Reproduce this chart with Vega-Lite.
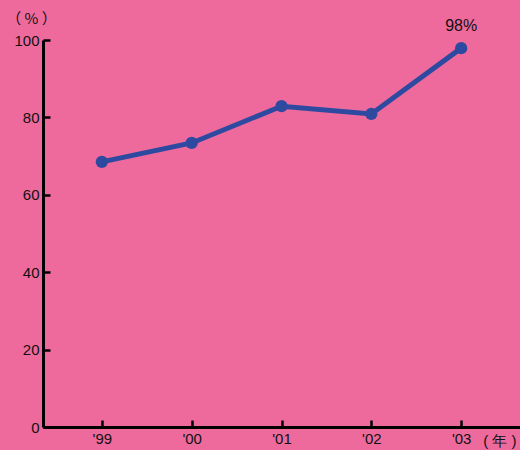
{
  "$schema": "https://vega.github.io/schema/vega-lite/v6.json",
  "autosize": "none",
  "width": 477,
  "height": 387,
  "padding": {"left": 43, "top": 40, "right": 0, "bottom": 23},
  "background": "#EE6A9C",
  "config": {
    "view": {"stroke": null},
    "font": "Liberation Sans",
    "axis": {"grid": false, "domainColor": "#000000", "domainWidth": 3, "tickColor": "#000000", "tickWidth": 2.5, "labelColor": "#111111", "labelFont": "Liberation Sans", "labelFontSize": 15, "titleFontWeight": "normal", "titleColor": "#111111"}
  },
  "data": {"values": [
    {"year": "'99", "pct": 68.5},
    {"year": "'00", "pct": 73.4},
    {"year": "'01", "pct": 82.9},
    {"year": "'02", "pct": 80.9},
    {"year": "'03", "pct": 97.9, "label": "98%"}
  ]},
  "encoding": {
    "x": {"field": "year", "type": "ordinal", "sort": null, "scale": {"type": "point", "padding": 0.655},
      "axis": {"title": "(  年  )", "labelAngle": 0, "tickSize": -7, "labelPadding": 11, "titleFont": "Liberation Sans", "titleFontSize": 15, "titleAnchor": "end", "titleAlign": "right", "titleX": 473, "titleY": 18, "titleBaseline": "alphabetic"}},
    "y": {"field": "pct", "type": "quantitative", "scale": {"domain": [0, 100], "nice": false},
      "axis": {"title": "（ % ）", "values": [0, 20, 40, 60, 80, 100], "tickSize": -7, "labelPadding": 11, "titleAngle": 0, "titleFont": "Noto Sans CJK JP", "titleFontSize": 15, "titleAlign": "center", "titleX": -12, "titleY": -22, "titleBaseline": "middle"}}
  },
  "layer": [
    {"mark": {"type": "line", "color": "#2E4AA0", "strokeWidth": 5}},
    {"mark": {"type": "point", "filled": true, "color": "#2E4AA0", "opacity": 1, "size": 150}},
    {"transform": [{"filter": "isValid(datum.label)"}], "mark": {"type": "text", "dy": -22, "fontSize": 16, "color": "#111111", "font": "Liberation Sans"}, "encoding": {"text": {"field": "label"}}}
  ]
}
